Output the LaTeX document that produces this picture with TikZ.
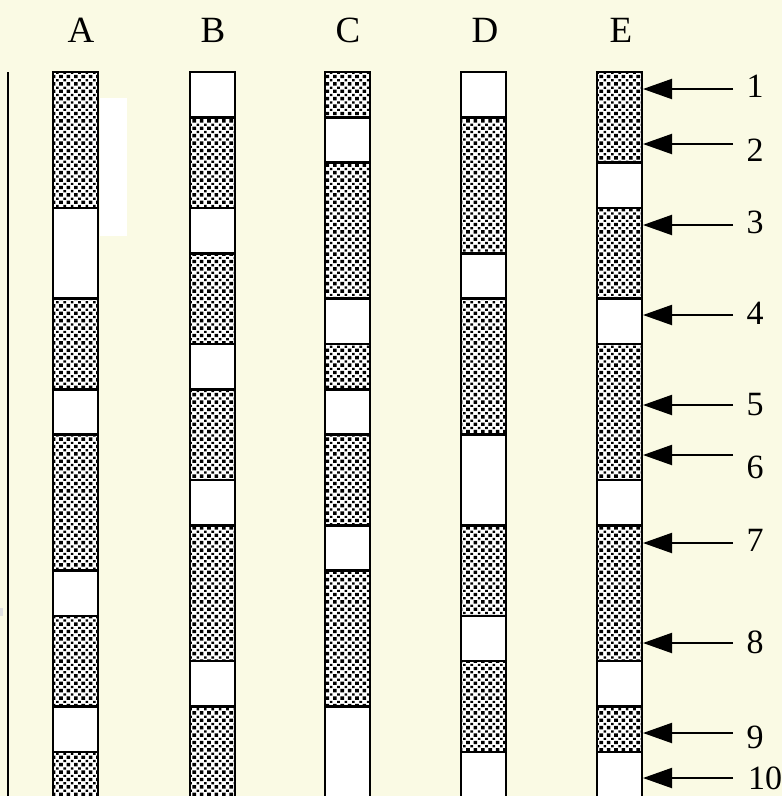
\documentclass[tikz,border=0pt]{standalone}
\usepackage{fontspec}
\setmainfont{Liberation Serif}
\usetikzlibrary{arrows.meta,patterns}
\definecolor{bgcream}{RGB}{250,250,228}
\pgfdeclarepatternformonly{sanddots}{\pgfpoint{-1pt}{-1pt}}{\pgfpoint{9pt}{9pt}}{\pgfpoint{7.4pt}{7.4pt}}{%
  \pgfpathrectangle{\pgfpoint{0pt}{0pt}}{\pgfpoint{3.6pt}{3.4pt}}%
  \pgfpathrectangle{\pgfpoint{4.2pt}{4.2pt}}{\pgfpoint{2.6pt}{2.2pt}}%
  \pgfusepath{fill}}
\begin{document}
\begin{tikzpicture}[x=1pt,y=-1pt,
  cellbox/.style={draw=black,line width=2.4pt},
  dotcell/.style={cellbox,preaction={fill=white},pattern=sanddots,pattern color=black},
  whitecell/.style={cellbox,fill=white},
  header/.style={font=\fontsize{37}{42}\selectfont,inner sep=0pt},
  numlabel/.style={font=\fontsize{34}{40}\selectfont,inner sep=0pt},
  pointer/.style={line width=2pt,-{Triangle[length=29pt,width=20pt]}}]
\useasboundingbox (0,0) rectangle (782,796);
\fill[bgcream] (0,0) rectangle (782,796);
\begin{scope}
\clip (0,0) rectangle (782,796);
% faint tick on left edge
\fill[black!12] (0,608) rectangle (2.5,616);
% left vertical line
\draw[line width=2.4pt] (8,72) -- (8,800);
% white panel beside column A
\fill[white] (99.5,98) rectangle (127,236);
\def\u{45.33}
\foreach \s/\e/\t in {0/3/dotcell,3/5/whitecell,5/7/dotcell,7/8/whitecell,8/11/dotcell,11/12/whitecell,12/14/dotcell,14/15/whitecell,15/17/dotcell}
  {\draw[\t] (53,72+\s*\u) rectangle (98,72+\e*\u);}
\foreach \s/\e/\t in {0/1/whitecell,1/3/dotcell,3/4/whitecell,4/6/dotcell,6/7/whitecell,7/9/dotcell,9/10/whitecell,10/13/dotcell,13/14/whitecell,14/17/dotcell}
  {\draw[\t] (190,72+\s*\u) rectangle (235,72+\e*\u);}
\foreach \s/\e/\t in {0/1/dotcell,1/2/whitecell,2/5/dotcell,5/6/whitecell,6/7/dotcell,7/8/whitecell,8/10/dotcell,10/11/whitecell,11/14/dotcell,14/17/whitecell}
  {\draw[\t] (325,72+\s*\u) rectangle (370,72+\e*\u);}
\foreach \s/\e/\t in {0/1/whitecell,1/4/dotcell,4/5/whitecell,5/8/dotcell,8/10/whitecell,10/12/dotcell,12/13/whitecell,13/15/dotcell,15/17/whitecell}
  {\draw[\t] (461,72+\s*\u) rectangle (506,72+\e*\u);}
\foreach \s/\e/\t in {0/2/dotcell,2/3/whitecell,3/5/dotcell,5/6/whitecell,6/9/dotcell,9/10/whitecell,10/13/dotcell,13/14/whitecell,14/15/dotcell,15/17/whitecell}
  {\draw[\t] (597,72+\s*\u) rectangle (642,72+\e*\u);}
\end{scope}
% headers
\node[header] (hA) at (81,30) {A};
\node[header] (hB) at (213,30) {B};
\node[header] (hC) at (348,30) {C};
\node[header] (hD) at (485,30) {D};
\node[header] (hE) at (621,30) {E};
% pointers and labels
\foreach \n/\ya/\yl/\xl in {1/89/86/755,2/144/150/755,3/225/222/755,4/315/313/755,5/405/405/755,6/455/467/755,7/543/540/755,8/643/642/755,9/733/737/755,10/778/778/765}
{
  \coordinate (s\n) at (733,\ya);
  \coordinate (t\n) at (643,\ya);
  \node[numlabel] (l\n) at (\xl,\yl) {\n};
  \draw[pointer] (s\n) -- (t\n);
}
\end{tikzpicture}
\end{document}
